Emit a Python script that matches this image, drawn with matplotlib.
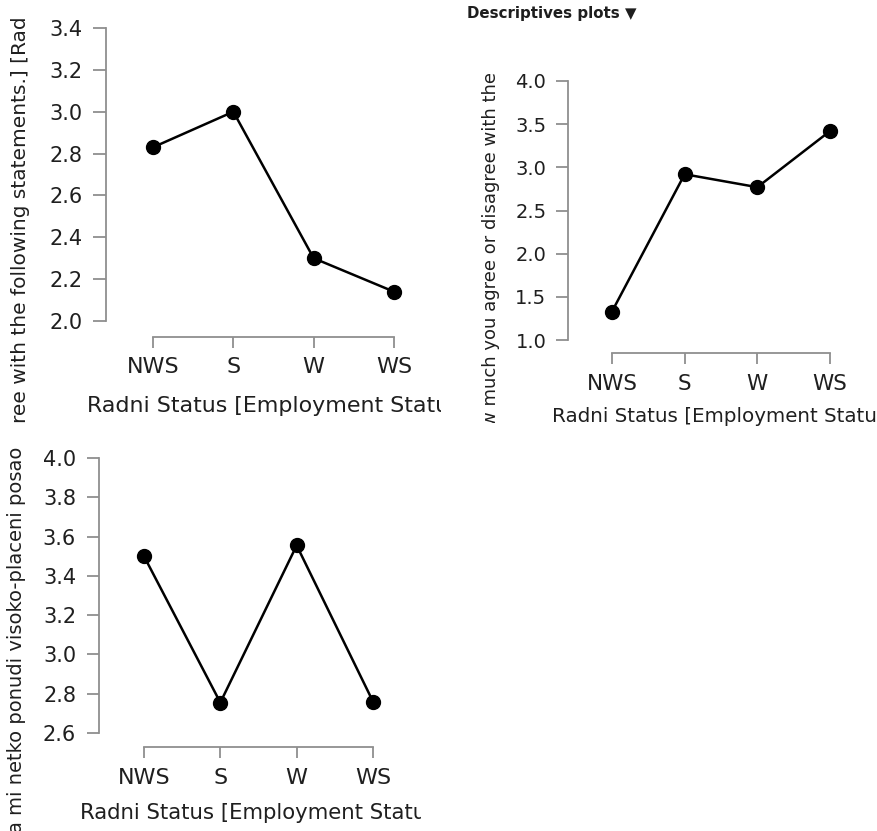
import matplotlib
matplotlib.use("Agg")
import matplotlib.pyplot as plt
from matplotlib.transforms import Bbox, TransformedBbox

plt.rcParams['font.family'] = ['DejaVu Sans']

W, H, DPI = 878, 831, 100

categories = ["NWS", "S", "W", "WS"]
values_1 = [2.83, 3.00, 2.30, 2.14]
values_2 = [1.33, 2.92, 2.77, 3.42]
values_3 = [3.50, 2.755, 3.555, 2.76]

yticks_1 = [2.0, 2.2, 2.4, 2.6, 2.8, 3.0, 3.2, 3.4]
yticks_2 = [1.0, 1.5, 2.0, 2.5, 3.0, 3.5, 4.0]
yticks_3 = [2.6, 2.8, 3.0, 3.2, 3.4, 3.6, 3.8, 4.0]

xlabel = "Radni Status [Employment Status]"
ylabel_1 = "ree with the following statements.] [Radni Status]"
ylabel_2 = "w much you agree or disagree with the"
ylabel_3 = "a mi netko ponudi visoko-placeni posao"
title = "Descriptives plots \u25BC"

SPINE = "#8f8f8f"
TXT = "#1f1f1f"

fig = plt.figure(figsize=(W / DPI, H / DPI), dpi=DPI)
fig.patch.set_facecolor("white")


def fx(px):
    return px / W


def fy(py):
    return 1 - py / H


def make_panel(vals, yticks, cat_px, spine_x, right_px, spine_y, ytop_px, ybot_px,
               ytick_fs, xtick_fs, ytick_len, xtick_len):
    spacing = (cat_px[-1] - cat_px[0]) / (len(cat_px) - 1)
    x_left = (spine_x - cat_px[0]) / spacing
    x_right = (right_px - cat_px[0]) / spacing
    ppu = (ybot_px - ytop_px) / (yticks[-1] - yticks[0])
    y_bottom = yticks[0] - (spine_y - ybot_px) / ppu
    ax = fig.add_axes([fx(spine_x), fy(spine_y), fx(right_px - spine_x),
                       (spine_y - ytop_px) / H])
    ax.set_facecolor("none")
    xs = list(range(len(categories)))
    ax.plot(xs, vals, color="black", lw=1.8, marker="o", ms=10,
            markerfacecolor="black", markeredgecolor="black", clip_on=False, zorder=3)
    ax.set_xlim(x_left, x_right)
    ax.set_ylim(y_bottom, yticks[-1])
    ax.set_xticks(xs)
    ax.set_xticklabels(categories)
    ax.set_yticks(yticks)
    ax.set_yticklabels([f"{t:.1f}" for t in yticks])
    for s in ["top", "right"]:
        ax.spines[s].set_visible(False)
    for s in ["left", "bottom"]:
        ax.spines[s].set_color(SPINE)
        ax.spines[s].set_linewidth(1.3)
    ax.spines["left"].set_bounds(yticks[0], yticks[-1])
    ax.spines["bottom"].set_bounds(xs[0], xs[-1])
    ax.tick_params(axis="y", length=ytick_len, width=1.3, color=SPINE,
                   labelsize=ytick_fs, labelcolor=TXT, pad=7.5)
    ax.tick_params(axis="x", length=xtick_len, width=1.3, color=SPINE,
                   labelsize=xtick_fs, labelcolor=TXT, pad=7)
    return ax


ax1 = make_panel(values_1, yticks_1, [153, 233, 313, 394], 106, 420, 336.5, 28, 321,
                 15, 16, 9.5, 8)
ax2 = make_panel(values_2, yticks_2, [612, 684, 757, 830], 568.5, 860, 353, 81, 340,
                 14, 15.5, 8.5, 8)
ax3 = make_panel(values_3, yticks_3, [144, 220, 296, 373], 99, 400, 747, 458, 733,
                 15, 16, 9, 8)


def clip_text(t, x0, y0, x1, y1):
    bb = Bbox([[fx(x0), fy(y1)], [fx(x1), fy(y0)]])
    t.set_clip_box(TransformedBbox(bb, fig.transFigure))
    t.set_clip_on(True)


# x labels
t = fig.text(fx(87), fy(406), xlabel, fontsize=15.9, color=TXT, ha="left", va="center")
clip_text(t, 0, 380, 441, 431)
t = fig.text(fx(552), fy(416), xlabel, fontsize=14.3, color=TXT, ha="left", va="center")
clip_text(t, 440, 395, 876, 431)
t = fig.text(fx(80), fy(813), xlabel, fontsize=15.3, color=TXT, ha="left", va="center")
clip_text(t, 0, 790, 421, 831)

# y labels
t = fig.text(fx(21), fy(423), ylabel_1, fontsize=14.5, color=TXT, rotation=90,
             ha="center", va="bottom")
clip_text(t, 0, 18, 45, 431)
t = fig.text(fx(491.5), fy(72), ylabel_2, fontsize=13, color=TXT, rotation=90,
             ha="center", va="top")
clip_text(t, 460, 60, 520, 423)
t = fig.text(fx(16.5), fy(447), ylabel_3, fontsize=14, color=TXT, rotation=90,
             ha="center", va="top")

# title
fig.text(fx(467), fy(13.5), title, fontsize=10.8, fontweight="bold", color="#1e1e1e",
         ha="left", va="center")

fig.savefig("out.png", dpi=DPI, facecolor="white")
